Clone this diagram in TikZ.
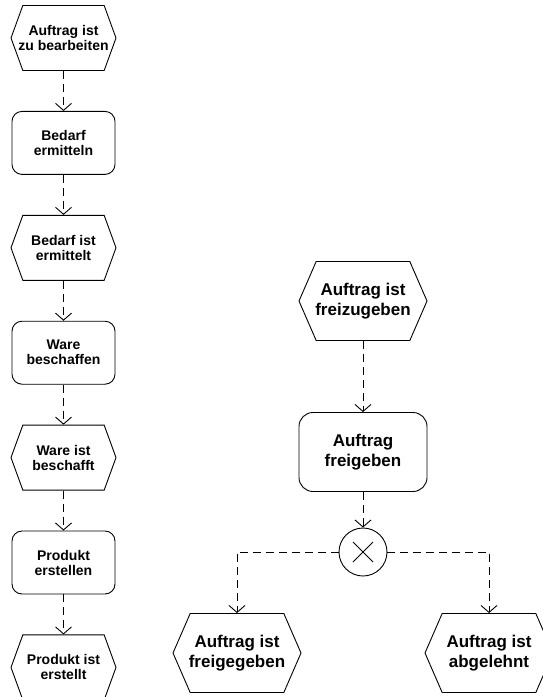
\documentclass[tikz,border=0pt]{standalone}
\usepackage{fontspec}
\setmainfont{Liberation Sans}
\usetikzlibrary{positioning,shapes.symbols,arrows.meta}

\tikzstyle{ereignis} = [signal, signal to=west and east, signal pointer angle=140, draw, line width=0.9pt, inner ysep=0pt, inner xsep=-4.5pt, minimum width=105pt, minimum height=65pt, align=center, font=\bfseries\fontsize{14}{15}\selectfont]
\tikzstyle{funktion} = [rectangle, draw, rounded corners=10pt, line width=0.9pt, inner sep=0pt, minimum width=103pt, minimum height=63pt, align=center, font=\bfseries\fontsize{14}{15}\selectfont]
\tikzstyle{gross} = [inner xsep=-1.5pt, minimum width=128pt, minimum height=79pt, font=\bfseries\fontsize{17}{20.5}\selectfont]
\tikzstyle{xorop} = [circle, draw, line width=0.9pt, inner sep=0pt, minimum size=48pt, path picture={
    \draw[line width=0.9pt] ([shift={(-10pt,-10pt)}]path picture bounding box.center) -- ++(20pt,20pt);
    \draw[line width=0.9pt] ([shift={(-10pt,10pt)}]path picture bounding box.center) -- ++(20pt,-20pt);}]
\tikzstyle{fluss} = [draw, line width=0.9pt, dash pattern=on 8pt off 5pt, -{Straight Barb[length=7pt,width=16pt]}]

\begin{document}
\begin{tikzpicture}[x=1pt,y=1pt]
        \tikzset{node distance = 40pt}
        \useasboundingbox (0,0) rectangle (542,-697);
        % linke Prozesskette
        \node (e1) at (63.5,-38) [ereignis] {Auftrag ist\\zu bearbeiten};
        \node (f1) [funktion, below=of e1] {Bedarf\\ermitteln};
        \node (e2) [ereignis, below=of f1] {Bedarf ist\\ermittelt};
        \node (f2) [funktion, below=of e2] {Ware\\beschaffen};
        \node (e3) [ereignis, below=of f2] {Ware ist\\beschafft};
        \node (f3) [funktion, below=of e3] {Produkt\\erstellen};
        \node (e4) [ereignis, below=of f3] {Produkt ist\\erstellt};
        % rechte Prozesskette mit XOR
        \node (e5) at (363,-301) [ereignis, gross, signal pointer angle=133] {Auftrag ist\\freizugeben};
        \node (f4) at (363,-452) [funktion, gross, rounded corners=14pt] {Auftrag\\freigeben};
        \node (x1) at (363,-552) [xorop] {};
        \node (e6) at (237,-653) [ereignis, gross, signal pointer angle=133] {Auftrag ist\\freigegeben};
        \node (e7) at (489,-653) [ereignis, gross, signal pointer angle=133] {Auftrag ist\\abgelehnt};

        \draw[fluss] (e1.south) -- (f1.north);
        \draw[fluss] (f1.south) -- (e2.north);
        \draw[fluss] (e2.south) -- (f2.north);
        \draw[fluss] (f2.south) -- (e3.north);
        \draw[fluss] (e3.south) -- (f3.north);
        \draw[fluss] (f3.south) -- (e4.north);
        \draw[fluss] (e5.south) -- (f4.north);
        \draw[fluss] (f4.south) -- (x1.north);
        \draw[fluss] (x1.west) -| (e6.north);
        \draw[fluss] (x1.east) -| (e7.north);
    \end{tikzpicture}
\end{document}
